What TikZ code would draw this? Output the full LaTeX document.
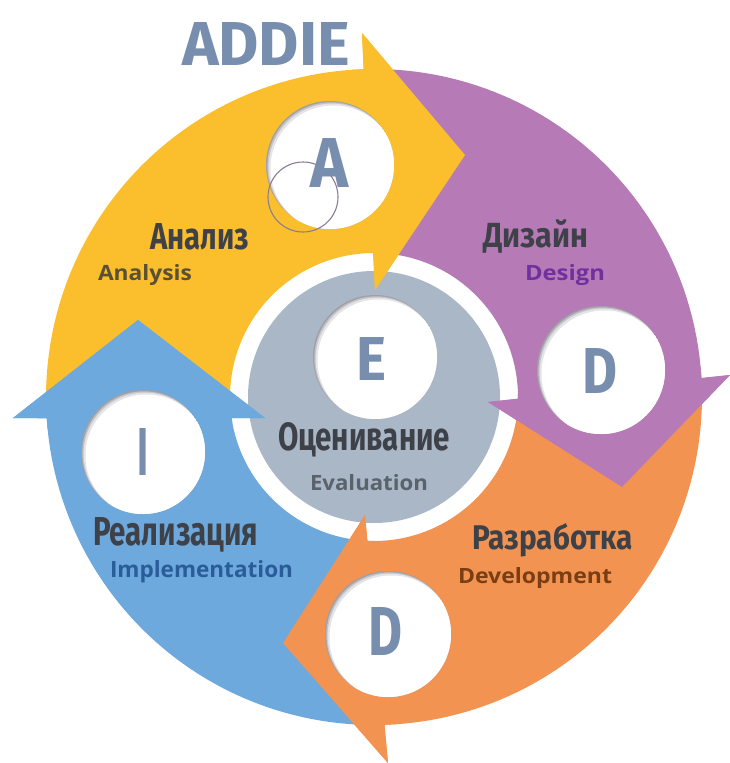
\documentclass[tikz,border=0pt]{standalone}
\usepackage{fontspec}
\usepackage{graphicx}
\newfontfamily\condf{Fira Sans}
\newfontfamily\engf{Open Sans}
\definecolor{cyel}{RGB}{251,190,45}
\definecolor{cpur}{RGB}{182,123,183}
\definecolor{cora}{RGB}{242,147,82}
\definecolor{cblu}{RGB}{109,169,220}
\definecolor{cgray}{RGB}{169,183,199}
\definecolor{cletter}{RGB}{120,142,174}
\definecolor{crutext}{RGB}{62,66,72}
\definecolor{canal}{RGB}{90,80,52}
\definecolor{cdes}{RGB}{112,48,160}
\definecolor{ceval}{RGB}{90,98,108}
\definecolor{cdev}{RGB}{122,62,18}
\definecolor{cimp}{RGB}{42,92,154}
\definecolor{shdark}{RGB}{160,160,165}
\definecolor{shmid}{RGB}{195,195,200}
\definecolor{shlight}{RGB}{228,228,232}
\definecolor{cthin}{RGB}{140,125,145}
\newcommand\holeat[3]{%
  \begin{scope}
    \clip (#1,#2) circle[radius=#3];
    \fill[shdark] (#1,#2) circle[radius=#3];
    \fill[shmid] (#1+1,#2+1) circle[radius=#3-0.3];
    \fill[shlight] (#1+2,#2+2) circle[radius=#3-0.6];
    \fill[white] (#1+3.5,#2+3.5) circle[radius=#3-1];
  \end{scope}}
\begin{document}
\begin{tikzpicture}[x=1pt,y=-1pt,
  lab/.style={inner sep=0pt, outer sep=0pt, anchor=base west},
  rulab/.style={lab, text=crutext},
  letter/.style={lab, text=cletter}]
\useasboundingbox (0,0) rectangle (730,763);
% centre disk
\fill[cgray] (374,397) circle[radius=126];
% full arrows (band + head)
\fill[cyel] (231.5,418) -- (46.7,418)
  -- plot[domain=0:1,samples=50] ({374+328*cos(176.3+91.9*\x)},{397+328*sin(176.3+91.9*\x)})
  -- (362,33) -- (465,155) -- (375,290) -- (373.1,253.0)
  -- plot[domain=0:1,samples=50] ({374+144*cos(269.6-98*\x)},{397+144*sin(269.6-98*\x)}) -- cycle;
\fill[cpur] (373.1,253.0) -- (363.8,69.2)
  -- plot[domain=0:1,samples=50] ({374+328*cos(268.2+88.5*\x)},{397+328*sin(268.2+88.5*\x)})
  -- (730,375) -- (622,487) -- (488,402) -- (518.0,398.7)
  -- plot[domain=0:1,samples=50] ({374+144*cos(360.66-91.06*\x)},{397+144*sin(360.66-91.06*\x)}) -- cycle;
\fill[cora] (518.0,398.7) -- (701.5,378.2)
  -- plot[domain=0:1,samples=50] ({374+328*cos(356.7+91.5*\x)},{397+328*sin(356.7+91.5*\x)})
  -- (388,763) -- (283,643) -- (365,515) -- (367.4,540.8)
  -- plot[domain=0:1,samples=50] ({374+144*cos(452.6-91.94*\x)},{397+144*sin(452.6-91.94*\x)}) -- cycle;
\fill[cblu] (367.4,540.8) -- (384.5,724.8)
  -- plot[domain=0:1,samples=50] ({374+328*cos(88.2+88.1*\x)},{397+328*sin(88.2+88.1*\x)})
  -- (13,418) -- (138,320) -- (265,418) -- (231.5,418)
  -- plot[domain=0:1,samples=50] ({374+144*cos(171.6-79*\x)},{397+144*sin(171.6-79*\x)}) -- cycle;
% heads again on top of the following band (reaching a little back into their own band)
\fill[cyel] (362,33) -- (465,155) -- (375,290) -- (373.1,253.0)
  -- ({374+144*cos(267.6)},{397+144*sin(267.6)}) -- ({374+328*cos(266.2)},{397+328*sin(266.2)})
  -- (363.8,69.2) -- cycle;
\fill[cpur] (730,375) -- (622,487) -- (488,402) -- (518.0,398.7)
  -- ({374+144*cos(358.66)},{397+144*sin(358.66)}) -- ({374+328*cos(354.7)},{397+328*sin(354.7)})
  -- (701.5,378.2) -- cycle;
\fill[cora] (388,763) -- (283,643) -- (365,515) -- (367.4,540.8)
  -- ({374+144*cos(450.6)},{397+144*sin(450.6)}) -- ({374+328*cos(446.2)},{397+328*sin(446.2)})
  -- (384.5,724.8) -- cycle;
\fill[cblu] (13,418) -- (138,320) -- (265,418) -- (231.5,418)
  -- ({374+144*cos(169.6)},{397+144*sin(169.6)}) -- ({374+328*cos(174.3)},{397+328*sin(174.3)})
  -- (46.7,418) -- cycle;
% white holes
\holeat{330}{165}{64}
\holeat{375}{357}{62}
\holeat{601}{370}{64}
\holeat{388}{634}{63}
\holeat{143}{452}{62}
\draw[cthin, line width=1.1pt] (303,197) circle[radius=35];
% title
\node[lab, text=cletter] (title) at (182,65) {\resizebox{168pt}{43pt}{\condf\bfseries ADDIE}};
% letters
\node[letter] (la) at (310,187) {\resizebox{38pt}{49pt}{\condf\bfseries A}};
\node[letter] (le) at (356,380) {\resizebox{30pt}{43pt}{\condf\bfseries E}};
\node[letter] (ld1) at (582,393) {\resizebox{35pt}{45pt}{\condf\bfseries D}};
\node[letter] (ld2) at (368,655) {\resizebox{34pt}{48pt}{\condf\bfseries D}};
\node[letter] (li) at (137,475) {\resizebox{11pt}{47pt}{\condf\bfseries I}};
% Russian labels
\node[rulab] (ru1) at (150,249) {\resizebox{99pt}{26pt}{\condf\bfseries Анализ}};
\node[rulab] (ru2) at (483,247) {\resizebox{105pt}{28pt}{\condf\bfseries Дизайн}};
\node[rulab] (ru3) at (278,450) {\resizebox{172pt}{28pt}{\condf\bfseries Оценивание}};
\node[rulab] (ru4) at (472,549) {\resizebox{161pt}{26pt}{\condf\bfseries Разработка}};
\node[rulab] (ru5) at (93,545) {\resizebox{165pt}{28pt}{\condf\bfseries Реализация}};
% English labels
\node[lab, text=canal] (en1) at (98,280) {\resizebox{94pt}{16pt}{\engf\bfseries Analysis}};
\node[lab, text=cdes] (en2) at (525,280) {\resizebox{80pt}{16pt}{\engf\bfseries Design}};
\node[lab, text=ceval] (en3) at (310,490) {\resizebox{118pt}{16pt}{\engf\bfseries Evaluation}};
\node[lab, text=cdev] (en4) at (458,583) {\resizebox{154pt}{16pt}{\engf\bfseries Development}};
\node[lab, text=cimp] (en5) at (110,577) {\resizebox{183pt}{17pt}{\engf\bfseries Implementation}};
\end{tikzpicture}
\end{document}
